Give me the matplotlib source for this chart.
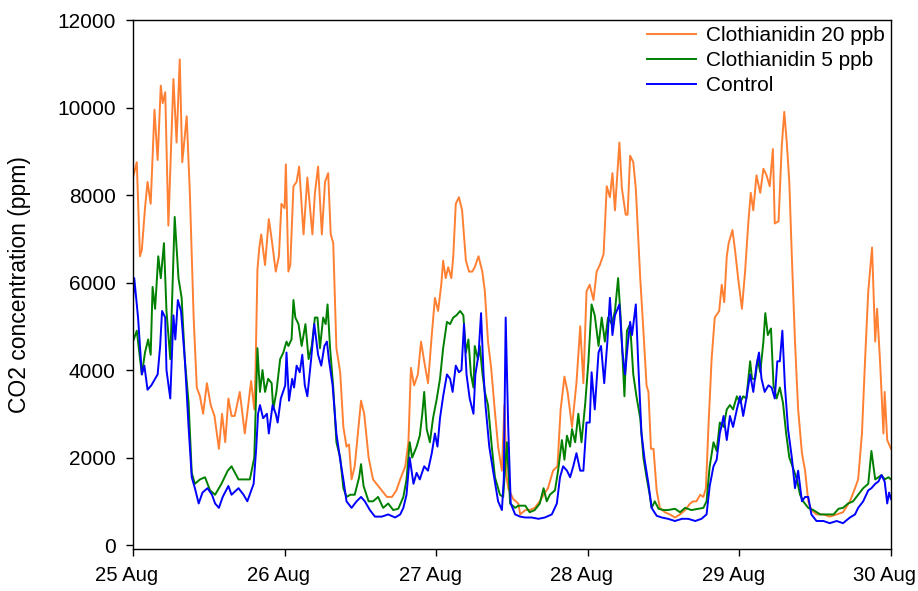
import numpy as np
import matplotlib
matplotlib.use("Agg")
import matplotlib.pyplot as plt
import matplotlib.dates as mdates
import matplotlib.transforms as mtransforms
from datetime import datetime, timedelta

plt.rcParams['font.family'] = ['Liberation Sans', 'DejaVu Sans']

start = datetime(2018, 8, 25)

# hours after 25 Aug 00:00, CO2 in thousands of ppm
c20_h = [0, 0.6, 1.1, 1.4, 1.9, 2.3, 2.8, 3.4, 3.9, 4.4, 4.7, 5.1, 5.6, 6.4, 6.9, 7.4, 7.8, 8.5, 9.0, 9.6,
         10.1, 10.6, 11.1, 11.7, 12.3, 12.9, 13.6, 14.1, 14.6, 15.1, 15.6, 16.1, 16.9, 17.7, 18.7, 19.2, 19.4, 19.7,
         20.0, 20.3, 20.9, 21.5, 21.9, 22.6, 23.1, 23.5, 24.0, 24.2, 24.6, 24.9, 25.4, 25.9, 26.3, 27.0, 27.6,
         28.4, 28.8, 29.3, 29.9, 30.4, 30.9, 31.3, 31.7, 32.2, 32.8, 33.3, 33.8, 34.2, 34.6, 35.1, 35.7, 36.1,
         36.6, 37.3, 38.0, 39.1, 40.2, 41.0, 41.7, 42.3, 43.1, 43.6, 44.0, 44.5, 45.1, 45.6, 46.1, 46.7, 47.3,
         47.8, 48.3, 48.8, 49.1, 49.5, 49.9, 50.4, 50.7, 51.1, 51.6, 52.1, 52.7, 53.2, 53.7, 54.1, 54.7, 55.3,
         55.7, 56.2, 56.7, 57.2, 57.8, 58.4, 58.8, 59.1, 59.4, 60.2, 61.0, 61.3, 62.1, 62.8, 63.6, 64.4, 65.0,
         65.7, 66.5, 67.2, 67.7, 68.3, 68.8, 69.5, 70.2, 70.8, 71.3, 71.8, 72.3, 72.9, 73.4, 73.9, 74.5, 75.0,
         75.5, 75.9, 76.3, 77.0, 77.4, 78.0, 78.3, 78.7, 79.2, 79.6, 80.3, 80.8, 81.3, 81.6, 82.0, 82.4, 82.9,
         83.4, 84.2, 85.0, 85.8, 86.6, 87.4, 88.2, 88.7, 89.2, 89.8, 90.3, 90.7, 91.1, 91.6, 92.1, 92.8, 93.2,
         93.6, 94.0, 94.3, 94.9, 95.3, 95.8, 96.4, 96.9, 97.4, 97.8, 98.2, 98.7, 99.3, 99.8, 100.3, 100.8,
         101.3, 101.6, 102.2, 102.7, 103.1, 103.5, 103.9, 104.3, 104.8, 105.3, 105.9, 106.4, 106.9, 107.4,
         108.2, 109.3, 110.3, 111.4, 112.4, 113.5, 114.3, 114.8, 115.4, 115.9, 116.4, 117.0, 117.5, 117.8,
         118.3, 118.8, 119.0, 119.4, 120.0]
c20_v = [8.4, 8.75, 6.6, 6.75, 7.7, 8.3, 7.8, 9.95, 8.8, 10.5, 10.1, 10.35, 7.3, 10.65, 9.2, 11.1, 8.75, 9.8, 8.05, 5.2,
         3.6, 3.4, 3.0, 3.7, 3.2, 2.95, 2.2, 3.0, 2.35, 3.35, 2.95, 2.95, 3.5, 2.55, 3.75, 3.1, 4.0, 6.3,
         6.8, 7.1, 6.4, 7.45, 7.05, 6.25, 6.6, 7.8, 7.7, 8.7, 6.25, 6.4, 8.2, 8.3, 8.65, 7.1, 8.4,
         7.1, 8.05, 8.65, 7.1, 8.3, 8.5, 7.1, 6.9, 4.5, 3.95, 2.7, 2.25, 2.3, 1.5, 1.8, 2.7, 3.3,
         3.0, 2.0, 1.5, 1.3, 1.1, 1.1, 1.25, 1.5, 1.8, 2.35, 4.05, 3.65, 3.9, 4.65, 4.2, 3.7, 4.8,
         5.65, 5.35, 5.95, 6.5, 6.1, 6.35, 6.1, 6.6, 7.8, 7.95, 7.65, 6.5, 6.25, 6.25, 6.35, 6.6, 6.25,
         5.8, 4.65, 4.05, 3.2, 2.25, 1.7, 3.2, 1.6, 1.3, 1.05, 0.95, 0.7, 0.8, 0.8, 0.85, 1.0, 1.15,
         1.3, 1.7, 1.8, 3.1, 3.85, 3.5, 2.7, 3.7, 5.0, 3.7, 5.8, 5.95, 5.6, 6.25, 6.4, 6.65, 8.2,
         7.95, 8.5, 7.65, 9.2, 8.15, 7.55, 7.55, 8.9, 8.75, 8.15, 6.1, 4.9, 3.65, 3.5, 2.2, 2.2, 1.25,
         0.85, 0.75, 0.7, 0.63, 0.7, 0.8, 0.95, 1.0, 1.0, 1.15, 1.1, 1.3, 2.7, 4.25, 5.2, 5.35, 5.95,
         5.55, 6.6, 6.9, 7.2, 6.75, 6.1, 5.4, 6.25, 7.35, 8.05, 7.65, 8.45, 8.05, 8.6, 8.45, 8.2,
         9.05, 7.35, 7.4, 9.1, 9.9, 9.2, 8.3, 6.6, 4.65, 3.1, 2.1, 1.7, 1.0, 0.8,
         0.7, 0.7, 0.65, 0.7, 0.75, 1.0, 1.3, 1.5, 2.55, 4.25, 5.8, 6.8, 4.65, 5.4,
         4.1, 2.55, 3.5, 2.4, 2.2]

c5_h = [0, 0.6, 1.4, 1.9, 2.4, 2.8, 3.1, 3.5, 4.0, 4.4, 4.9, 5.3, 5.9, 6.6, 7.2, 7.7, 8.2, 8.8, 9.3, 9.8,
        10.6, 11.4, 12.2, 13.0, 14.0, 15.0, 15.6, 16.7, 17.7, 18.5, 19.2, 19.7, 20.1, 20.5, 20.9, 21.4,
        21.95, 22.2, 22.7, 23.3, 23.8, 24.3, 24.6, 25.1, 25.4, 25.7, 26.2, 26.7, 27.3, 27.8, 28.3, 28.8,
        29.2, 29.6, 30.1, 30.5, 30.8, 31.2, 31.7, 32.2, 32.8, 33.3, 33.8, 34.4, 35.1, 35.8, 36.1, 36.5,
        37.3, 38.0, 38.8, 39.6, 40.4, 41.2, 42.0, 42.8, 43.3, 43.8, 44.2, 44.9, 45.4, 45.8, 46.1, 46.5,
        47.0, 47.5, 48.1, 48.6, 49.1, 49.7, 50.2, 50.7, 51.2, 51.8, 52.3, 52.7, 53.1, 53.5, 53.9, 54.1,
        54.6, 54.9, 55.3, 55.7, 56.2, 56.8, 57.3, 58.1, 58.6, 59.2, 59.7, 60.5, 61.0, 62.1, 62.8, 63.6,
        64.4, 65.0, 65.5, 66.0, 66.8, 67.3, 67.9, 68.3, 68.7, 69.2, 69.5, 70.0, 70.5, 71.0, 71.6, 72.1,
        72.6, 73.1, 73.7, 74.2, 74.7, 75.2, 75.8, 76.3, 76.8, 77.2, 77.8, 78.2, 78.7, 79.2, 79.7, 80.3,
        80.8, 81.3, 81.8, 82.1, 82.6, 83.2, 84.0, 84.7, 85.8, 86.6, 87.4, 88.4, 89.5, 90.3, 90.8, 91.3,
        91.9, 92.4, 92.9, 93.5, 94.0, 94.5, 95.0, 95.6, 96.1, 96.6, 97.1, 97.7, 98.0, 98.5, 98.9, 99.3,
        99.8, 100.1, 100.5, 101.0, 101.4, 101.9, 102.4, 102.9, 103.4, 103.9, 104.4, 105.1, 105.6, 106.1,
        106.9, 107.7, 108.8, 109.8, 110.9, 111.7, 112.4, 113.2, 114.0, 114.8, 115.6, 116.4, 116.9, 117.5,
        118.0, 118.5, 119.0, 119.6, 120.0]
c5_v = [4.65, 4.9, 3.9, 4.4, 4.7, 4.35, 5.9, 5.4, 6.6, 6.1, 6.9, 5.35, 4.25, 7.5, 6.1, 5.65, 4.25, 3.25, 1.65, 1.4,
        1.5, 1.55, 1.25, 1.15, 1.4, 1.7, 1.8, 1.5, 1.5, 1.5, 2.0, 4.5, 3.5, 4.0, 3.5, 3.8,
        3.7, 3.1, 3.5, 4.25, 4.4, 4.65, 4.55, 4.7, 5.6, 5.2, 5.05, 4.55, 5.05, 4.25, 4.55, 5.2,
        5.2, 4.5, 5.2, 5.05, 5.5, 4.5, 3.6, 2.35, 2.0, 1.3, 1.1, 1.15, 1.15, 1.55, 1.85, 1.35,
        1.0, 1.0, 1.1, 0.85, 0.95, 0.8, 0.83, 1.1, 1.5, 2.35, 2.0, 2.25, 2.5, 3.0, 3.5, 2.65,
        2.35, 2.9, 3.35, 3.8, 4.5, 5.1, 5.05, 5.2, 5.25, 5.35, 5.25, 4.4, 4.7, 3.9, 3.6, 4.55,
        4.25, 4.55, 3.95, 3.5, 3.2, 2.25, 1.55, 1.15, 1.1, 2.35, 0.95, 0.85, 0.9, 0.9, 0.75, 0.8,
        0.95, 1.3, 1.0, 1.15, 1.25, 1.7, 2.4, 1.95, 2.5, 2.25, 2.65, 2.35, 3.0, 2.35, 3.25, 4.2,
        5.5, 5.25, 4.55, 5.2, 4.65, 5.2, 5.05, 5.35, 6.1, 5.2, 3.4, 4.9, 5.05, 3.9, 3.4, 2.9,
        2.0, 1.55, 1.15, 0.85, 1.0, 0.83, 0.8, 0.8, 0.83, 0.75, 0.85, 0.8, 0.83, 0.85, 1.0, 1.8,
        2.35, 2.15, 2.8, 2.7, 3.1, 3.2, 3.1, 3.4, 3.25, 3.4, 3.35, 4.2, 3.8, 3.8, 4.25, 3.95,
        4.65, 5.3, 4.8, 4.95, 3.65, 3.35, 3.6, 3.25, 2.55, 2.0, 1.8, 1.5, 1.15, 1.0,
        0.85, 0.8, 0.7, 0.7, 0.7, 0.83, 0.85, 0.95, 1.0, 1.15, 1.3, 1.4, 2.15, 1.5,
        1.55, 1.6, 1.5, 1.55, 1.5]

ctrl_h = [0, 0.2, 0.8, 1.4, 1.8, 2.3, 2.9, 3.5, 3.9, 4.3, 4.6, 5.1, 5.3, 5.9, 6.4, 6.7, 7.1, 7.6, 8.2, 8.8,
          9.3, 9.8, 10.4, 11.0, 11.8, 12.5, 13.0, 13.6, 14.2, 15.1, 15.6, 16.7, 17.5, 18.1, 19.1, 19.5, 19.8,
          20.1, 20.6, 21.2, 21.5, 22.1, 22.6, 22.9, 23.4, 24.1, 24.3, 24.7, 25.2, 25.5, 25.9, 26.4, 26.8,
          27.2, 27.6, 28.2, 28.7, 29.3, 29.8, 30.3, 30.7, 31.0, 31.6, 32.2, 32.8, 33.3, 33.8, 34.6, 35.4,
          36.1, 36.7, 37.5, 38.3, 39.4, 40.4, 41.5, 42.3, 42.8, 43.3, 43.8, 44.4, 44.9, 45.4, 46.1, 46.7,
          47.3, 47.8, 48.2, 48.6, 49.1, 49.7, 50.2, 50.6, 51.1, 51.6, 52.0, 52.4, 52.8, 53.3, 53.9, 54.2,
          54.7, 55.1, 55.5, 55.8, 56.4, 57.0, 57.8, 58.4, 58.7, 59.0, 59.4, 59.8, 60.5, 61.3, 62.1, 63.1,
          64.2, 65.2, 66.3, 67.1, 67.6, 68.1, 68.7, 69.2, 69.7, 70.2, 70.8, 71.3, 71.8, 72.3, 72.6, 73.1,
          73.7, 74.1, 74.6, 75.1, 75.5, 75.9, 76.3, 77.0, 77.5, 77.9, 78.3, 78.7, 79.0, 79.6, 80.0, 80.5,
          81.0, 81.6, 82.1, 82.9, 83.7, 84.7, 85.8, 86.9, 87.9, 89.0, 90.0, 90.8, 91.3, 91.9, 92.4, 92.9,
          93.5, 94.0, 94.5, 95.0, 95.6, 96.1, 96.6, 97.1, 97.7, 98.2, 98.7, 99.1, 99.5, 100.0, 100.6,
          101.1, 101.6, 102.0, 102.4, 102.8, 103.2, 103.7, 104.3, 104.8, 105.3, 105.9, 106.4, 106.9, 107.4,
          108.2, 109.3, 110.3, 111.4, 112.4, 113.5, 114.3, 114.8, 115.6, 116.4, 116.9, 117.5, 118.0, 118.5,
          119.0, 119.4, 119.7, 120.0]
ctrl_v = [5.6, 6.1, 5.2, 3.9, 4.1, 3.55, 3.65, 3.8, 3.9, 4.55, 5.35, 5.2, 4.0, 3.35, 5.25, 4.7, 5.6, 5.35, 4.25, 2.7,
          1.55, 1.3, 0.95, 1.2, 1.3, 1.15, 0.95, 0.85, 1.1, 1.35, 1.15, 1.3, 1.15, 1.0, 1.4, 2.2, 3.0,
          3.2, 2.9, 3.0, 2.55, 3.2, 3.0, 2.8, 3.35, 3.65, 4.4, 3.3, 3.8, 3.6, 4.1, 3.95, 4.35,
          3.65, 3.4, 4.25, 5.05, 4.35, 4.1, 4.55, 4.65, 4.25, 3.65, 2.55, 1.95, 1.5, 1.0, 0.85, 1.0,
          1.1, 1.0, 0.8, 0.65, 0.65, 0.7, 0.63, 0.7, 0.85, 1.15, 2.0, 1.4, 1.65, 1.5, 1.8, 1.7,
          2.1, 2.55, 2.25, 2.9, 3.4, 3.9, 3.8, 3.5, 4.1, 3.95, 4.0, 5.05, 3.9, 3.35, 3.0, 3.9,
          4.35, 5.3, 3.9, 3.2, 2.25, 1.7, 1.0, 0.8, 1.5, 5.2, 2.7, 0.95, 0.7, 0.65, 0.63, 0.63,
          0.6, 0.63, 0.7, 0.95, 1.55, 1.8, 1.7, 1.55, 1.8, 2.1, 1.7, 1.7, 2.8, 2.8, 3.95, 3.1,
          4.4, 4.55, 3.7, 4.65, 5.65, 4.8, 5.25, 5.5, 4.4, 3.9, 4.55, 5.1, 4.8, 5.5, 4.1, 2.55,
          1.95, 1.4, 0.85, 0.67, 0.63, 0.6, 0.55, 0.6, 0.6, 0.55, 0.6, 0.7, 1.35, 1.8, 1.95, 2.55,
          2.95, 2.4, 2.95, 2.7, 3.1, 3.4, 2.95, 3.35, 3.9, 3.5, 4.1, 4.4, 3.8, 3.5, 3.65,
          3.6, 3.35, 4.2, 4.2, 4.9, 3.65, 2.65, 2.0, 1.3, 1.7, 1.0, 1.1, 1.1, 0.7,
          0.55, 0.55, 0.5, 0.55, 0.5, 0.63, 0.7, 0.85, 1.0, 1.25, 1.3, 1.4, 1.45, 1.6,
          1.45, 0.95, 1.2, 1.05]

series = [
    (c20_h, c20_v, '#ff8033', 'Clothianidin 20 ppb'),
    (c5_h, c5_v, '#008000', 'Clothianidin 5 ppb'),
    (ctrl_h, ctrl_v, '#0000ff', 'Control'),
]

fig = plt.figure(figsize=(9.18, 5.91), dpi=100)
ax = fig.add_axes([133 / 918, 1 - 549 / 591, (891 - 133) / 918, (549 - 20) / 591])

for h, v, col, lab in series:
    t = [start + timedelta(hours=x) for x in h]
    ax.plot(t, np.array(v) * 1000, color=col, lw=1.4, label=lab)

ax.set_xlim(start, start + timedelta(days=5))
ax.set_ylim(-90, 12000)
ax.set_yticks(np.arange(0, 12001, 2000))
ax.xaxis.set_major_locator(mdates.DayLocator())
ax.xaxis.set_major_formatter(mdates.DateFormatter('%d %b'))
ax.tick_params(direction='out', length=5, width=1, pad=7.5)
ax.tick_params(axis='y', labelsize=15)
ax.tick_params(axis='x', labelsize=14.6)
for s in ax.spines.values():
    s.set_linewidth(1.0)

# date labels sit a little left of their ticks
shift = mtransforms.ScaledTranslation(-6 / 100, 0, fig.dpi_scale_trans)
for lbl in ax.get_xticklabels():
    lbl.set_transform(lbl.get_transform() + shift)

ax.set_ylabel('CO2 concentration (ppm)', fontsize=16.5)
ax.yaxis.set_label_coords(-0.135, 0.5)

ax.legend(loc='upper right', frameon=False, fontsize=15, handlelength=2.35,
          handletextpad=0.5, labelspacing=0.28, borderaxespad=0.0, borderpad=0.3,
          bbox_to_anchor=(1.0, 1.0))

fig.savefig('out.png', dpi=100)
